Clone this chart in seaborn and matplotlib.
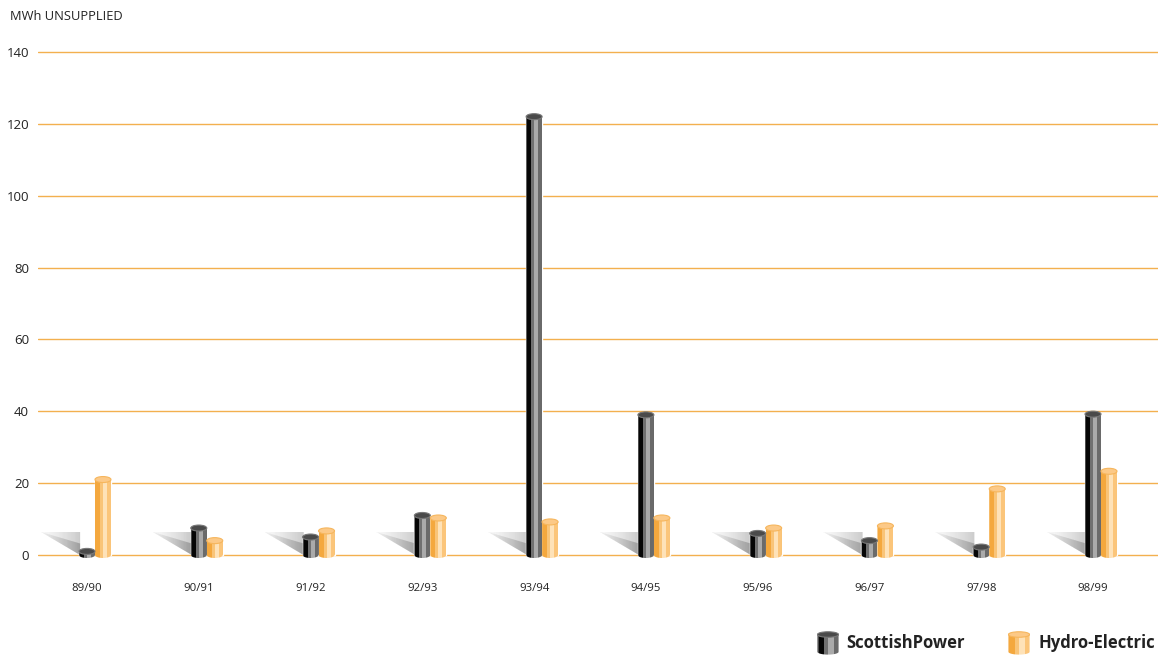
import numpy as np
import pandas as pd
import matplotlib
matplotlib.use("Agg")
import matplotlib.pyplot as plt
import seaborn as sns
from matplotlib.patches import Ellipse, Polygon

# ---- data -------------------------------------------------------------
years = ["89/90", "90/91", "91/92", "92/93", "93/94",
         "94/95", "95/96", "96/97", "97/98", "98/99"]
scottish_power = [1.0, 7.5, 5.0, 11.0, 122.0, 39.0, 6.0, 4.0, 2.2, 39.2]
hydro_electric = [21.0, 4.0, 6.7, 10.3, 9.2, 10.3, 7.5, 8.1, 18.4, 23.3]
companies = ["ScottishPower", "Hydro-Electric"]
y_ticks = [0, 20, 40, 60, 80, 100, 120, 140]

df = pd.DataFrame({
    "year": years * 2,
    "company": [companies[0]] * len(years) + [companies[1]] * len(years),
    "mwh": scottish_power + hydro_electric,
})

# ---- styling ----------------------------------------------------------
sns.set_theme(style="white")
plt.rcParams["font.family"] = ["Open Sans", "DejaVu Sans"]

GRID = "#F3B04F"
TEXT = "#222222"
BASE = {"ScottishPower": "#3c3c3c", "Hydro-Electric": "#F7B554"}
STRIPES = {
    "ScottishPower": [(0.00, "#4a4a4a"), (0.08, "#060606"), (0.30, "#707070"),
                      (0.50, "#aaaaaa"), (0.78, "#6a6a6a")],
    "Hydro-Electric": [(0.00, "#F4A83E"), (0.30, "#F9C478"),
                       (0.50, "#FEE2B8"), (0.76, "#FBC57A")],
}
CAP = {"ScottishPower": ("#4a4a4a", "#787878"),
       "Hydro-Electric": ("#FCC987", "#F6B65D")}

W_PX, H_PX = 1165, 658
fig = plt.figure(figsize=(W_PX / 100, H_PX / 100), dpi=100)

y_lo, y_hi = -2.0, 142.0
px_per_unit = (555 - 52) / 140.0
ax_top_px = 52 - (y_hi - 140) * px_per_unit
ax_bot_px = 555 + (0 - y_lo) * px_per_unit
ax = fig.add_axes([38 / W_PX, 1 - ax_bot_px / H_PX,
                   (1158 - 38) / W_PX, (ax_bot_px - ax_top_px) / H_PX])

group_w = 0.286
sns.barplot(data=df, x="year", y="mwh", hue="company", palette=BASE,
            width=group_w, dodge=True, saturation=1, errorbar=None,
            legend=False, ax=ax, zorder=3)


def stripe_image(stripes, n=200):
    xs = np.linspace(0, 1, n, endpoint=False)
    img = np.zeros((1, n, 3))
    for start, col in stripes:
        rgb = matplotlib.colors.to_rgb(col)
        img[0, xs >= start] = rgb
    return img


def draw_cylinder(axis, x0, w, h, name, cap_h):
    xc = x0 + w / 2
    t = np.linspace(np.pi, 2 * np.pi, 40)
    bottom = np.column_stack([xc + w / 2 * np.cos(t), cap_h / 2 * np.sin(t)])
    verts = np.vstack([[[x0, h]], bottom, [[x0 + w, h]]])
    outline = Polygon(verts, closed=True, transform=axis.transData,
                      facecolor="none", edgecolor="none")
    axis.add_patch(outline)
    im = axis.imshow(stripe_image(STRIPES[name]), aspect="auto",
                     extent=(x0, x0 + w, -cap_h / 2, h),
                     interpolation="nearest", zorder=4)
    im.set_clip_path(outline)
    fc, ec = CAP[name]
    axis.add_patch(Ellipse((xc, h), w, cap_h, facecolor=fc, edgecolor=ec,
                           linewidth=0.8, zorder=5))


def draw_shadow(axis, x_right, depth, height, n=40):
    # cast shadow wedge built from thin vertical slices that darken
    # towards the bar, with a deeper band running along the lower edge
    x_left = x_right - depth
    edges = np.linspace(x_left, x_right, n + 1)
    for i in range(n):
        xa, xb = edges[i], edges[i + 1]
        fa, fb = (xa - x_left) / depth, (xb - x_left) / depth
        ya, yb = height * (1 - fa), height * (1 - fb)
        t = (i + 0.5) / n
        axis.add_patch(Polygon([(xa, height), (xb, height), (xb, yb), (xa, ya)],
                               closed=True, facecolor="#5a5a5a",
                               edgecolor="none", alpha=0.03 + 0.30 * t ** 1.3,
                               zorder=2))
        ta = min(height, ya + 0.5 * height * fa)
        tb = min(height, yb + 0.5 * height * fb)
        axis.add_patch(Polygon([(xa, ta), (xb, tb), (xb, yb), (xa, ya)],
                               closed=True, facecolor="#4a4a4a",
                               edgecolor="none", alpha=0.05 + 0.30 * t ** 1.2,
                               zorder=2))


cap_h = 6.0 / px_per_unit
sp_bars, he_bars = ax.containers[0], ax.containers[1]
for name, bars in ((companies[0], sp_bars), (companies[1], he_bars)):
    for bar in bars:
        draw_cylinder(ax, bar.get_x(), bar.get_width(), bar.get_height(),
                      name, cap_h)
for bar in sp_bars:
    draw_shadow(ax, bar.get_x() + 0.01, 0.35, 6.4)

sp_centres = [b.get_x() + b.get_width() / 2 for b in sp_bars]
ax.set_xticks(sp_centres)
ax.set_xticklabels(years)
ax.set_xlim(sp_centres[0] - 49 / 111.8, sp_centres[-1] + 65 / 111.8)
ax.set_ylim(y_lo, y_hi)
ax.set_yticks(y_ticks)
ax.yaxis.grid(True, color=GRID, linewidth=1.0)
ax.xaxis.grid(False)
ax.set_axisbelow(True)
for s in ax.spines.values():
    s.set_visible(False)
ax.tick_params(axis="y", length=0, pad=6.5, labelsize=9.5, labelcolor=TEXT)
ax.tick_params(axis="x", length=0, pad=15, labelsize=8.2, labelcolor=TEXT)
ax.set_xlabel("")
ax.set_ylabel("")

fig.text(10 / W_PX, 1 - 16 / H_PX, "MWh UNSUPPLIED", fontsize=9.3,
         color=TEXT, va="center", ha="left")

# ---- legend with cylinder keys -----------------------------------------
legend_items = [(companies[0], 817, 846), (companies[1], 1008, 1038)]
for name, icon_x, text_x in legend_items:
    iax = fig.add_axes([icon_x / W_PX, 1 - 655 / H_PX, 22 / W_PX, 26 / H_PX])
    draw_cylinder(iax, 0.0, 1.0, 0.88, name, 0.28)
    iax.set_xlim(-0.02, 1.02)
    iax.set_ylim(-0.16, 1.16)
    iax.axis("off")
    fig.text(text_x / W_PX, 1 - 643 / H_PX, name, fontsize=12,
             fontweight="bold", color=TEXT, va="center", ha="left")

fig.savefig("out.png", dpi=100, facecolor="white")
